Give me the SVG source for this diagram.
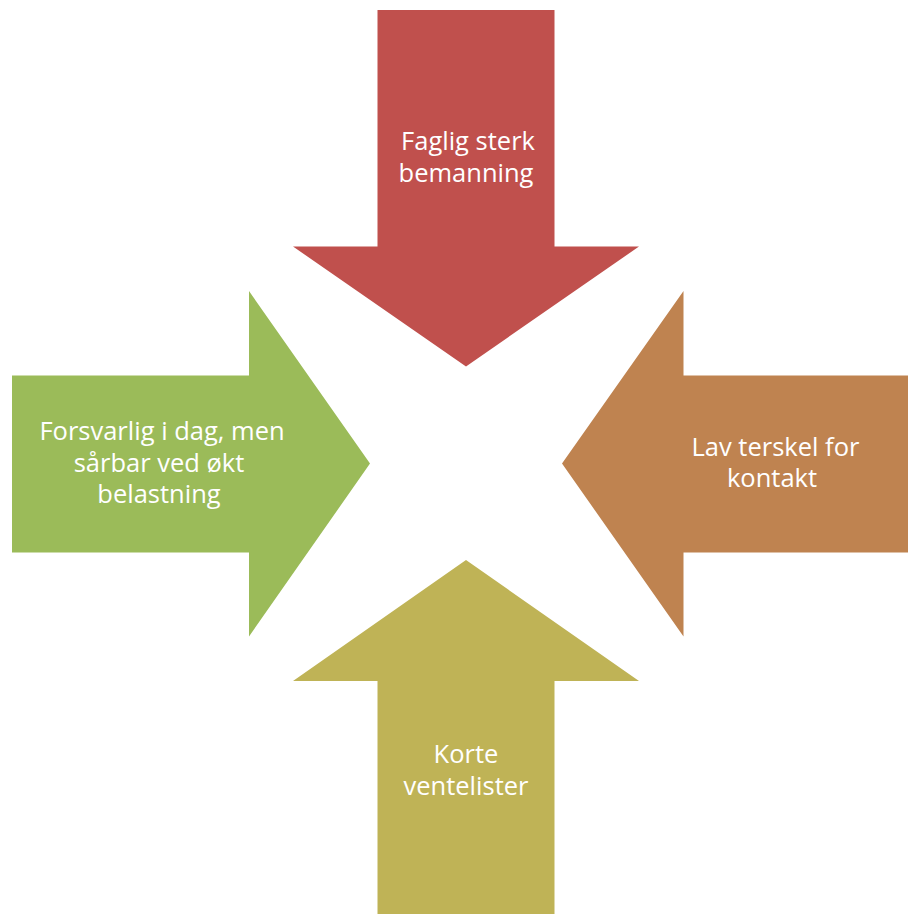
<svg xmlns="http://www.w3.org/2000/svg" width="908" height="914" viewBox="0 0 908 914">
<style>
.lbl{font-family:"Open Sans","Liberation Sans",sans-serif;font-size:25.5px;fill:#ffffff;text-anchor:middle}
</style>
<rect width="908" height="914" fill="#ffffff"/>
<g id="connectors"/>
<g id="top">
<polygon points="377.5,10 554.5,10 554.5,246.5 639,246.5 466,366.5 293,246.5 377.5,246.5" fill="#C0504D"/>
<text class="lbl" x="468" y="150">Faglig sterk</text>
<text class="lbl" x="466" y="181.5">bemanning</text>
</g>
<g id="right">
<polygon points="908,375.5 683.5,375.5 683.5,291 562,463.5 683.5,636.5 683.5,552.5 908,552.5" fill="#BF8350"/>
<text class="lbl" x="775.5" y="455.7">Lav terskel for</text>
<text class="lbl" x="772" y="487.3">kontakt</text>
</g>
<g id="bottom">
<polygon points="377.5,914 554.5,914 554.5,681 639,681 466,560 293,681 377.5,681" fill="#BFB356"/>
<text class="lbl" x="466" y="762.7">Korte</text>
<text class="lbl" x="466" y="795">ventelister</text>
</g>
<g id="left">
<polygon points="12,375.5 249,375.5 249,291 370,463.5 249,636.5 249,552.5 12,552.5" fill="#9BBB59"/>
<text class="lbl" x="162" y="440">Forsvarlig i dag, men</text>
<text class="lbl" x="159" y="471.7">sårbar ved økt</text>
<text class="lbl" x="159" y="503.3">belastning</text>
</g>
</svg>
